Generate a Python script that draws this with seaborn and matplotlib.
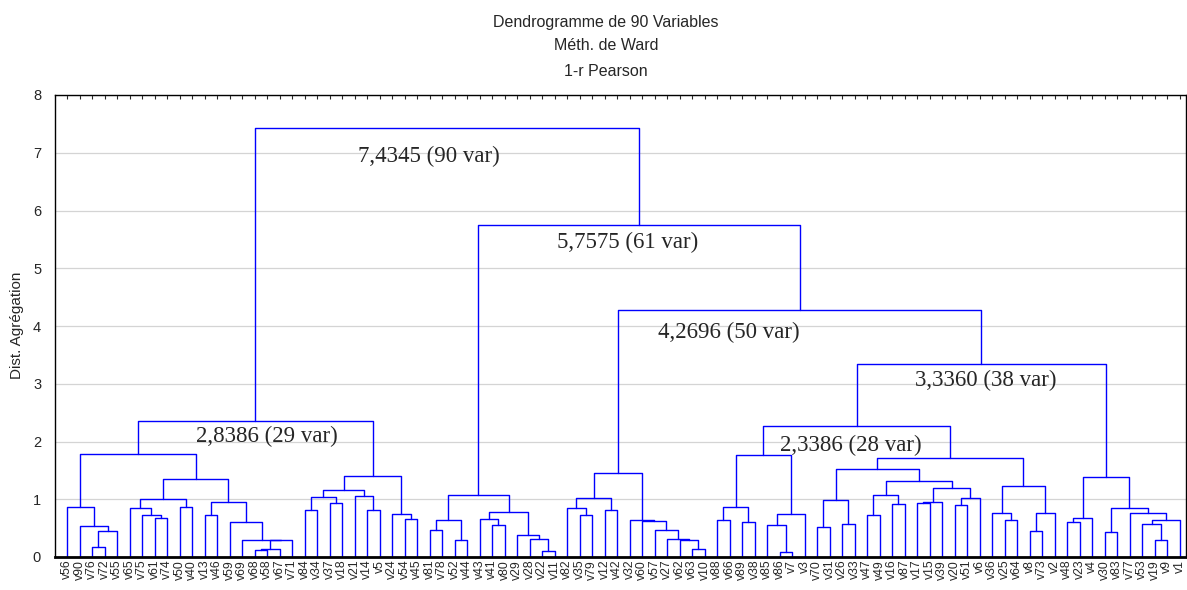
import numpy as np
import pandas as pd
import matplotlib
matplotlib.use("Agg")
import matplotlib.pyplot as plt
import seaborn as sns

# leaf labels, left-to-right order
labels = ["v56", "v90", "v76", "v72", "v55", "v65", "v75", "v61", "v74", "v50",
          "v40", "v13", "v46", "v59", "v69", "v68", "v58", "v67", "v71", "v84",
          "v34", "v37", "v18", "v21", "v14", "v5", "v24", "v54", "v45", "v81",
          "v78", "v52", "v44", "v43", "v41", "v80", "v29", "v28", "v22", "v11",
          "v82", "v35", "v79", "v12", "v42", "v32", "v60", "v57", "v27", "v62",
          "v63", "v10", "v88", "v66", "v89", "v38", "v85", "v86", "v7", "v3",
          "v70", "v31", "v26", "v33", "v47", "v49", "v16", "v87", "v17", "v15",
          "v39", "v20", "v51", "v6", "v36", "v25", "v64", "v8", "v73", "v2",
          "v48", "v23", "v4", "v30", "v83", "v77", "v53", "v19", "v9", "v1"]

# merges: node ids 0..89 are leaves, merge k creates node 90+k
left = [2, 90, 1, 0, 7, 6, 5, 9, 96, 11,
        15, 100, 101, 14, 13, 99, 98, 93, 19, 21,
        108, 24, 23, 110, 27, 26, 113, 107, 29, 31,
        118, 34, 33, 38, 37, 36, 122, 120, 41, 40,
        43, 129, 50, 49, 48, 47, 46, 45, 131, 52,
        54, 139, 57, 56, 143, 141, 60, 62, 146, 64,
        66, 149, 68, 152, 71, 154, 153, 151, 148, 75,
        74, 77, 161, 160, 158, 145, 80, 166, 83, 87,
        86, 170, 85, 168, 167, 165, 138, 127, 117]
right = [3, 4, 91, 92, 8, 94, 95, 10, 97, 12,
         16, 17, 18, 102, 103, 104, 105, 106, 20, 22,
         109, 25, 111, 112, 28, 114, 115, 116, 30, 32,
         119, 35, 121, 39, 123, 124, 125, 126, 42, 128,
         44, 130, 51, 132, 133, 134, 135, 136, 137, 53,
         55, 140, 58, 142, 59, 144, 61, 63, 147, 65,
         67, 150, 69, 70, 72, 73, 155, 156, 157, 76,
         159, 78, 79, 162, 163, 164, 81, 82, 84, 88,
         169, 89, 171, 172, 173, 174, 175, 176, 177]
heights = [0.17, 0.45, 0.53, 0.87, 0.67, 0.73, 0.84, 0.87, 1.00, 0.73,
           0.12, 0.13, 0.29, 0.30, 0.61, 0.95, 1.35, 1.79, 0.82, 0.94,
           1.04, 0.81, 1.05, 1.16, 0.65, 0.74, 1.40, 2.35, 0.47, 0.30,
           0.64, 0.56, 0.66, 0.10, 0.31, 0.38, 0.78, 1.08, 0.73, 0.85,
           0.81, 1.02, 0.13, 0.29, 0.31, 0.47, 0.62, 0.64, 1.45, 0.64,
           0.61, 0.86, 0.09, 0.56, 0.74, 1.76, 0.52, 0.57, 0.98, 0.73,
           0.91, 1.07, 0.94, 0.95, 0.90, 1.02, 1.19, 1.31, 1.52, 0.64,
           0.77, 0.45, 0.76, 1.23, 1.72, 2.27, 0.61, 0.68, 0.44, 0.29,
           0.58, 0.64, 0.77, 0.85, 1.39, 3.336, 4.2696, 5.7575, 7.4345]

ann_text = ["7,4345 (90 var)", "5,7575 (61 var)", "4,2696 (50 var)",
            "3,3360 (38 var)", "2,8386 (29 var)", "2,3386 (28 var)"]
ann_x = [23.3, 39.2, 47.3, 67.8, 10.3, 57.0]
ann_y = [6.93, 5.44, 3.88, 3.06, 2.08, 1.94]

# build the U-shaped segments
n = len(labels)
xpos = list(range(n))
ypos = [0.0] * n
rows = []
for k, (a, b, h) in enumerate(zip(left, right, heights)):
    xa, ya, xb, yb = xpos[a], ypos[a], xpos[b], ypos[b]
    for x, y in [(xa, ya), (xa, h), (xb, h), (xb, yb)]:
        rows.append({"seg": k, "x": x, "y": y})
    xpos.append((xa + xb) / 2)
    ypos.append(h)
seg = pd.DataFrame(rows)

sns.set_style("white")
plt.rcParams["font.family"] = ["Liberation Sans", "DejaVu Sans"]

fig = plt.figure(figsize=(11.87, 5.90), dpi=100)
ax = fig.add_axes([55 / 1187, 33 / 590, 1131 / 1187, 462 / 590])

sns.lineplot(data=seg, x="x", y="y", units="seg", estimator=None, sort=False,
             color="#0000ff", lw=1.0, ax=ax)

for t, x, y in zip(ann_text, ann_x, ann_y):
    ax.text(x, y, t, ha="left", va="center", fontsize=16.5,
            family=["Liberation Serif", "DejaVu Serif"])

ax.set_xlim(-0.96, 89.5)
ax.set_ylim(0, 8)
ax.set_yticks(range(9))
ax.set_yticks(np.arange(0, 8.01, 0.25), minor=True)
ax.yaxis.grid(True, color="#d4d4d4", lw=0.9)
ax.set_axisbelow(True)
ax.tick_params(axis="y", which="major", direction="out", length=4, labelsize=10.5, pad=6)
ax.tick_params(axis="y", which="minor", direction="out", length=2)
ax.set_xticks(range(n))
ax.set_xticklabels(labels, rotation=90, fontsize=8.8)
ax.tick_params(axis="x", which="major", top=True, bottom=False, labelbottom=True,
               direction="in", length=3, width=0.8, pad=2)
ax.set_xlabel("")
ax.set_ylabel("")
for s in ax.spines.values():
    s.set_color("black")
    s.set_linewidth(1.0)
ax.spines["bottom"].set_linewidth(2.0)

fig.text(606 / 1187, 1 - 22 / 590, "Dendrogramme de 90 Variables", ha="center", va="center", fontsize=11.5)
fig.text(606 / 1187, 1 - 46 / 590, "Méth. de Ward", ha="center", va="center", fontsize=11.5)
fig.text(606 / 1187, 1 - 71 / 590, "1-r Pearson", ha="center", va="center", fontsize=11.5)
fig.text(17 / 1187, 1 - 325 / 590, "Dist. Agrégation", rotation=90, ha="center", va="center", fontsize=11)

fig.savefig("out.png", dpi=100)
